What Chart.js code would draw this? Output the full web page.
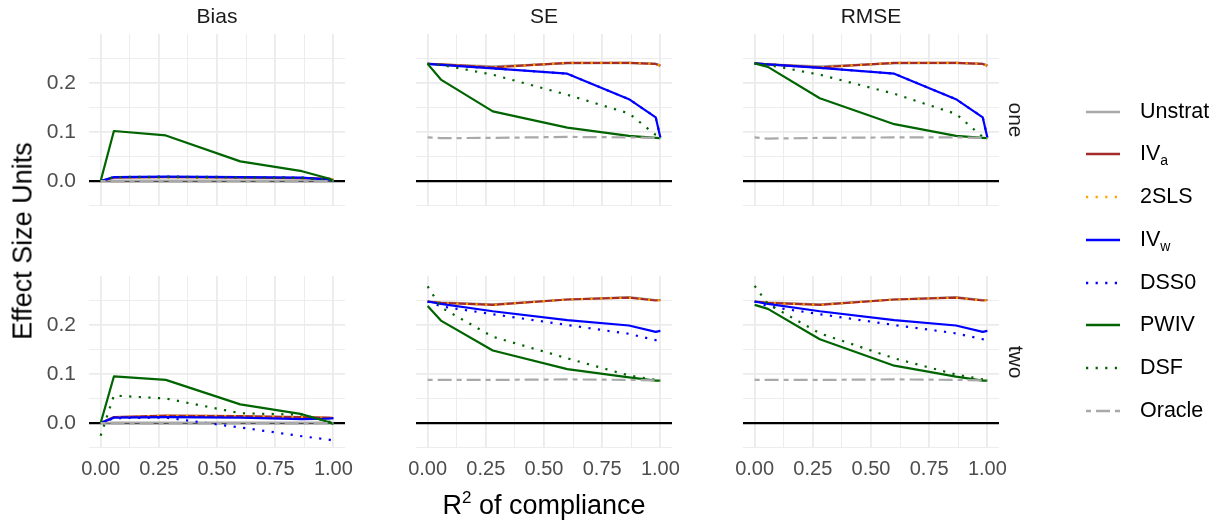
<!DOCTYPE html>
<html>
<head>
<meta charset="utf-8">
<script src="https://cdn.jsdelivr.net/npm/chart.js@4.4.0/dist/chart.umd.min.js"></script>
<style>
  body { margin: 0; background: #fff; }
  #wrap { position: relative; width: 1217px; height: 523px; overflow: hidden;
          font-family: "Liberation Sans", Arial, Helvetica, sans-serif; }
  #wrap canvas { position: absolute; }
  .lbl { position: absolute; line-height: 1; white-space: nowrap; transform: translate(-50%, -50%); }
  .strip { font-size: 21px; color: #1a1a1a; }
  .title { font-size: 27px; color: #000; }
  .leg { position: absolute; left: 1086px; height: 30px; width: 130px; }
  .leg svg { position: absolute; left: 0; top: 10px; }
  .leg span { position: absolute; left: 54px; top: 15px; font-size: 21.5px; line-height: 1;
              transform: translateY(-50%); color: #000; }
  .leg sub { font-size: 14px; vertical-align: -5px; line-height: 0; }
</style>
</head>
<body>
<div id="wrap"></div>
<script>
// R^2 of compliance (x)
const rsq = [0, 0.057, 0.28, 0.6, 0.865, 0.98, 1];
const methods = ['Unstrat', 'IVa', '2SLS', 'IVw', 'DSS0', 'PWIV', 'DSF', 'Oracle'];
const statLabels = ['Bias', 'SE', 'RMSE'];
const rowLabels = ['one', 'two'];
const xTicks = [0, 0.125, 0.25, 0.375, 0.5, 0.625, 0.75, 0.875, 1];
const yTicks = [-0.05, 0, 0.05, 0.1, 0.15, 0.2, 0.25];

// rows in method order: Unstrat, IVa, 2SLS, IVw, DSS0, PWIV, DSF, Oracle
const biasOne = [
  [0, 0.001, 0.001, 0.001, 0.001, 0.001, 0.001],
  [0, 0.007, 0.008, 0.007, 0.006, 0.005, 0.003],
  [0, 0.007, 0.008, 0.007, 0.006, 0.005, 0.003],
  [0, 0.008, 0.009, 0.008, 0.007, 0.003, 0.000],
  [0, 0.008, 0.009, 0.008, 0.007, 0.003, 0.000],
  [0, 0.102, 0.093, 0.040, 0.020, 0.005, 0.000],
  [0, 0.008, 0.008, 0.007, 0.006, 0.002, 0.000],
  [0, -0.001, -0.001, 0.000, -0.001, 0.000, 0.000]
];
const seOne = [
  [0.239, 0.238, 0.234, 0.240, 0.241, 0.239, 0.236],
  [0.239, 0.238, 0.232, 0.241, 0.241, 0.239, 0.235],
  [0.239, 0.238, 0.232, 0.241, 0.241, 0.239, 0.235],
  [0.239, 0.237, 0.230, 0.219, 0.167, 0.130, 0.089],
  [0.239, 0.237, 0.230, 0.219, 0.167, 0.130, 0.089],
  [0.239, 0.207, 0.142, 0.109, 0.092, 0.088, 0.0875],
  [0.239, 0.237, 0.217, 0.176, 0.138, 0.094, 0.088],
  [0.089, 0.0875, 0.088, 0.090, 0.089, 0.088, 0.0875]
];
const rmseOne = [
  [0.240, 0.238, 0.234, 0.240, 0.241, 0.239, 0.236],
  [0.240, 0.238, 0.232, 0.241, 0.241, 0.239, 0.235],
  [0.240, 0.238, 0.232, 0.241, 0.241, 0.239, 0.235],
  [0.240, 0.238, 0.231, 0.219, 0.167, 0.130, 0.089],
  [0.240, 0.238, 0.231, 0.219, 0.167, 0.130, 0.089],
  [0.240, 0.233, 0.169, 0.116, 0.092, 0.088, 0.0875],
  [0.240, 0.237, 0.217, 0.178, 0.137, 0.090, 0.088],
  [0.089, 0.0865, 0.088, 0.089, 0.089, 0.088, 0.0875]
];
const biasTwo = [
  [0, 0.001, 0.001, 0.001, 0.001, 0.001, 0.001],
  [0, 0.012, 0.015, 0.014, 0.012, 0.011, 0.010],
  [0, 0.012, 0.015, 0.014, 0.012, 0.011, 0.010],
  [0, 0.011, 0.012, 0.011, 0.008, 0.009, 0.010],
  [0, 0.010, 0.011, -0.009, -0.027, -0.034, -0.036],
  [0, 0.095, 0.088, 0.038, 0.018, 0.002, -0.002],
  [-0.026, 0.056, 0.050, 0.020, 0.017, 0.003, 0.000],
  [0, -0.001, -0.001, 0.000, -0.001, 0.000, 0.000]
];
const seTwo = [
  [0.248, 0.246, 0.242, 0.252, 0.257, 0.251, 0.251],
  [0.248, 0.245, 0.241, 0.252, 0.256, 0.250, 0.251],
  [0.248, 0.245, 0.241, 0.252, 0.256, 0.250, 0.251],
  [0.248, 0.243, 0.228, 0.210, 0.199, 0.186, 0.188],
  [0.248, 0.238, 0.222, 0.200, 0.182, 0.169, 0.167],
  [0.239, 0.209, 0.148, 0.110, 0.093, 0.0865, 0.0865],
  [0.279, 0.236, 0.176, 0.132, 0.097, 0.088, 0.0865],
  [0.088, 0.088, 0.088, 0.089, 0.088, 0.087, 0.0865]
];
const rmseTwo = [
  [0.248, 0.246, 0.242, 0.252, 0.257, 0.251, 0.251],
  [0.248, 0.245, 0.241, 0.252, 0.256, 0.250, 0.251],
  [0.248, 0.245, 0.241, 0.252, 0.256, 0.250, 0.251],
  [0.248, 0.243, 0.228, 0.210, 0.199, 0.186, 0.188],
  [0.248, 0.238, 0.222, 0.200, 0.183, 0.171, 0.170],
  [0.241, 0.233, 0.171, 0.117, 0.0945, 0.0865, 0.0865],
  [0.280, 0.243, 0.183, 0.132, 0.099, 0.089, 0.087],
  [0.088, 0.088, 0.088, 0.089, 0.088, 0.087, 0.0865]
];

// line styles (ggplot-ish)
const DOT = [2.2, 7.4];
const TWODASH = [5, 5, 14, 5];
const lineStyle = {
  'Unstrat': { color: '#a9a9a9', dash: [] },
  'IVa':     { color: '#a52a2a', dash: [] },
  '2SLS':    { color: '#ffa500', dash: DOT },
  'IVw':     { color: '#0000ff', dash: [] },
  'DSS0':    { color: '#0000ff', dash: DOT },
  'PWIV':    { color: '#006400', dash: [] },
  'DSF':     { color: '#006400', dash: DOT },
  'Oracle':  { color: '#a9a9a9', dash: TWODASH }
};

const FONT = '"Liberation Sans", Arial, Helvetica, sans-serif';
const PANEL_W = 256, PANEL_H = 172;
const colLeft = [89, 416, 743];
const rowTop = [34, 276];
const PAD_L = 60, PAD_T = 30, PAD_R = 30, PAD_B = 40;

const wrap = document.getElementById('wrap');
const near = (a, b) => Math.abs(a - b) < 1e-9;
const isMajorX = v => near(v * 4, Math.round(v * 4));
const isMajorY = v => near(v * 10, Math.round(v * 10));

function addText(cls, text, x, y, rot) {
  const d = document.createElement('div');
  d.className = 'lbl ' + cls;
  d.innerHTML = text;
  d.style.left = x + 'px';
  d.style.top = y + 'px';
  if (rot) d.style.transform = 'translate(-50%, -50%) rotate(' + rot + 'deg)';
  wrap.appendChild(d);
}

function makePanel(r, c, values) {
  const cv = document.createElement('canvas');
  cv.width = PAD_L + PANEL_W + PAD_R;
  cv.height = PAD_T + PANEL_H + PAD_B;
  cv.style.left = (colLeft[c] - PAD_L) + 'px';
  cv.style.top = (rowTop[r] - PAD_T) + 'px';
  wrap.appendChild(cv);

  const datasets = methods.map((m, i) => ({
    label: m,
    data: rsq.map((x, k) => ({ x: x, y: values[i][k] })),
    borderColor: lineStyle[m].color,
    borderDash: lineStyle[m].dash,
    borderWidth: 2.2,
    borderCapStyle: 'butt',
    borderJoinStyle: 'round',
    pointRadius: 0,
    tension: 0,
    fill: false,
    order: 20 - i   // later methods drawn on top, like ggplot
  }));

  new Chart(cv, {
    type: 'line',
    data: { datasets: datasets },
    options: {
      responsive: false,
      animation: false,
      events: [],
      layout: { padding: { top: PAD_T, right: PAD_R, left: 0, bottom: 0 } },
      plugins: { legend: { display: false }, tooltip: { enabled: false } },
      scales: {
        x: {
          type: 'linear', min: -0.05, max: 1.05,
          afterBuildTicks: s => { s.ticks = xTicks.map(v => ({ value: v })); },
          afterFit: s => { s.height = PAD_B; },
          border: { display: false },
          grid: {
            z: -1,
            drawTicks: false,
            color: '#ebebeb',
            lineWidth: ctx => (ctx.tick && isMajorX(ctx.tick.value)) ? 1.8 : 0.9
          },
          ticks: {
            display: r === 1,
            autoSkip: false, maxRotation: 0, padding: 9,
            color: '#4d4d4d', font: { family: FONT, size: 20 },
            callback: v => isMajorX(v) ? v.toFixed(2) : ''
          }
        },
        y: {
          type: 'linear', min: -0.051, max: 0.30,
          afterBuildTicks: s => { s.ticks = yTicks.map(v => ({ value: v })); },
          afterFit: s => { s.width = PAD_L; },
          border: { display: false },
          grid: {
            drawTicks: false,
            color: ctx => (ctx.tick && near(ctx.tick.value, 0)) ? '#000000' : '#ebebeb',
            lineWidth: ctx => {
              if (!ctx.tick) return 0.9;
              if (near(ctx.tick.value, 0)) return 2.2;
              return isMajorY(ctx.tick.value) ? 1.8 : 0.9;
            }
          },
          ticks: {
            display: c === 0,
            autoSkip: false, padding: 13,
            color: '#4d4d4d', font: { family: FONT, size: 21 },
            callback: v => isMajorY(v) ? v.toFixed(1) : ''
          }
        }
      }
    }
  });
}

const panelValues = [[biasOne, seOne, rmseOne], [biasTwo, seTwo, rmseTwo]];
rowLabels.forEach((rl, r) => {
  statLabels.forEach((sl, c) => makePanel(r, c, panelValues[r][c]));
  addText('strip', rl, colLeft[2] + PANEL_W + 17, rowTop[r] + PANEL_H / 2, 90);
});
statLabels.forEach((sl, c) => addText('strip', sl, colLeft[c] + PANEL_W / 2, 15));

addText('title', 'Effect Size Units', 23, (rowTop[0] + rowTop[1] + PANEL_H) / 2, -90);
addText('title', 'R<sup style="font-size:17px;vertical-align:11px;line-height:0">2</sup> of compliance',
        (colLeft[0] + colLeft[2] + PANEL_W) / 2, 505);

// legend
const legendText = {
  'Unstrat': 'Unstrat', 'IVa': 'IV<sub>a</sub>', '2SLS': '2SLS', 'IVw': 'IV<sub>w</sub>',
  'DSS0': 'DSS0', 'PWIV': 'PWIV', 'DSF': 'DSF', 'Oracle': 'Oracle'
};
methods.forEach((m, i) => {
  const d = document.createElement('div');
  d.className = 'leg';
  d.style.top = (111.7 + i * 42.75 - 15) + 'px';
  const st = lineStyle[m];
  d.innerHTML = '<svg width="34" height="10"><line x1="0" y1="5" x2="34" y2="5" stroke="' + st.color +
    '" stroke-width="2.4" stroke-dasharray="' + (st.dash.length ? st.dash.join(' ') : 'none') +
    '"/></svg><span>' + legendText[m] + '</span>';
  wrap.appendChild(d);
});
</script>
</body>
</html>
